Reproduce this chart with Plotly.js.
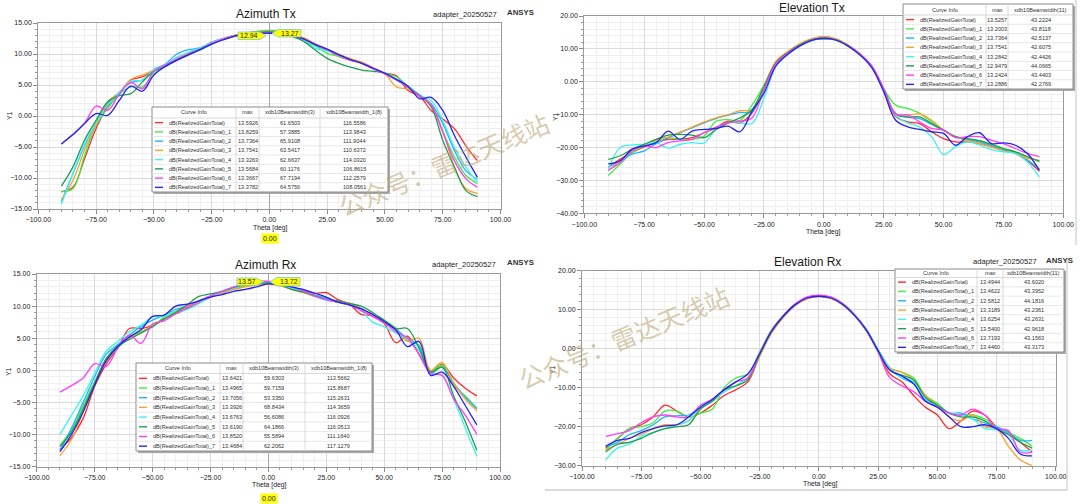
<!DOCTYPE html>
<html><head><meta charset="utf-8">
<script src="https://cdn.plot.ly/plotly-3.0.1.min.js"></script>
<style>html,body{margin:0;padding:0;background:#fff;}#chart{width:1080px;height:504px;}</style>
</head><body><div id="chart"></div>
<script>
// ---------------- DATA ----------------
const theta = [-90,-85,-80,-75,-70,-65,-60,-55,-50,-45,-40,-35,-30,-25,-20,-15,-10,-5,0,5,10,15,20,25,30,35,40,45,50,55,60,65,70,75,80,85,90];
const curveNames = ['dB(RealizedGainTotal)','dB(RealizedGainTotal)_1','dB(RealizedGainTotal)_2','dB(RealizedGainTotal)_3','dB(RealizedGainTotal)_4','dB(RealizedGainTotal)_5','dB(RealizedGainTotal)_6','dB(RealizedGainTotal)_7'];
const curveColors = ['#ff2a2a','#3ef03e','#1fb4ff','#ff9f2e','#3cf2f2','#1f9e50','#ff3cff','#2424f0'];

// Azimuth Tx
const azTx0 = [-12.2,-11.5,-6.9,-2.0,1.5,3.6,5.8,6.3,7.3,8.1,9.1,10.0,10.7,11.7,12.5,13.0,13.3,13.5,13.55,13.5,13.0,12.5,11.4,10.6,9.6,9.0,8.5,7.6,6.9,6.5,4.1,3.2,0.9,-0.5,-2.0,-4.8,-7.2];
const azTx1 = [-12.2,-11.7,-6.4,-1.5,1.2,3.5,4.7,4.7,6.8,8.0,9.0,9.9,10.6,11.6,12.4,13.0,13.4,13.7,13.8,13.7,13.1,12.0,11.3,10.1,9.6,9.0,8.6,7.6,6.9,6.3,4.8,3.4,1.8,-2.4,-6.6,-9.6,-10.9];
const azTx2 = [-13.8,-9.3,-4.8,-1.2,2.0,3.8,5.4,5.8,7.5,8.4,10.0,10.7,11.0,11.9,12.5,13.0,13.4,13.6,13.7,13.6,13.1,12.5,11.4,10.7,9.9,9.1,8.5,7.7,6.8,5.8,4.7,3.3,2.0,-1.2,-5.5,-8.8,-10.2];
const azTx3 = [-13.5,-10.4,-5.5,-1.4,2.3,3.8,5.9,6.6,7.4,8.2,9.3,10.2,10.9,11.8,12.5,13.0,13.4,13.6,13.7,13.6,13.1,12.6,11.6,10.8,10.0,9.3,8.7,7.8,6.8,4.7,4.3,3.4,1.8,-2.4,-8.2,-11.7,-12.5];
const azTx4 = [-14.2,-9.3,-4.5,-1.1,1.7,3.8,5.6,5.8,7.4,8.2,9.5,10.3,11.0,11.8,12.4,12.9,13.2,13.3,13.3,13.3,12.9,12.3,10.9,10.5,9.8,9.0,8.5,7.6,6.9,5.9,4.8,3.4,2.5,-0.7,-5.0,-8.2,-10.7];
const azTx5 = [-11.3,-8.2,-3.9,-0.7,2.3,3.3,3.6,5.5,7.2,8.0,9.0,9.8,10.8,11.6,12.3,12.9,13.3,13.5,13.55,13.4,12.8,12.0,10.6,9.3,8.5,7.9,7.4,7.2,6.9,5.8,4.6,3.3,1.5,-3.9,-8.2,-12.0,-13.0];
const azTx6 = [-4.5,-3.0,-1.2,1.6,0.9,3.5,5.4,4.4,7.2,8.2,9.2,10.0,10.8,11.7,12.4,12.9,13.2,13.35,13.35,13.3,12.9,12.4,11.5,10.7,9.8,9.0,8.5,7.6,6.8,5.8,4.6,3.2,1.8,-2.6,-7.2,-10.1,-11.5];
const azTx7 = [-4.5,-3.0,-1.2,0.4,0.1,2.5,4.8,4.0,6.6,8.0,9.0,9.9,10.7,11.6,12.3,12.9,13.2,13.35,13.35,13.3,12.9,12.4,11.5,10.8,9.9,9.1,8.5,7.7,6.9,5.9,4.8,2.8,3.0,0.9,-3.1,-6.6,-9.9];
const azTxMax = ['13.5926','13.8259','13.7364','13.7541','13.3263','13.5684','13.3667','13.3782'];
const azTxBw3 = ['61.6503','57.3885','65.9108','63.5417','62.6637','60.1176','67.7194','64.5756'];
const azTxBw8 = ['116.5586','113.9843','111.9044','110.6372','114.0320','106.8615','112.2579','108.0561'];
const azTxMarkers = ['12.94','13.27'];

// Elevation Tx
const elTx0 = [-26,-23.5,-21.5,-19.8,-18.5,-17.5,-17.5,-17,-15.5,-14,-12,-12.5,-9.5,-2.5,5.5,8.7,11.1,12.9,13.5,12.9,11.0,8.4,4.6,-2.6,-10.5,-12.2,-12.7,-15.2,-17.3,-18.3,-18.3,-18.8,-19.8,-20.8,-21.8,-23.9,-27.2];
const elTx1 = [-28.5,-25,-21.5,-19.5,-17.5,-17,-17.5,-17.5,-16.5,-12,-11.5,-11.8,-7.1,-1.0,6.0,8.9,11.0,12.6,13.2,12.6,10.9,8.3,4.8,-2.0,-7.1,-8.1,-9.6,-12.2,-14.7,-16.7,-17.8,-17.8,-19.3,-20.3,-21.3,-22.8,-24.4];
const elTx2 = [-26,-24,-22,-21,-18.8,-17,-15.5,-14,-12.5,-11.2,-10.2,-9.3,-9.2,-2.0,5.8,9.0,11.4,13.0,13.7,13.0,11.2,8.6,4.8,-2.2,-9.8,-10.8,-11.2,-13.0,-14.8,-16.8,-17.5,-18.3,-19.5,-20.8,-21.8,-23.8,-26.5];
const elTx3 = [-27,-24,-21,-19.5,-18,-16.8,-15.3,-13.8,-12.3,-11.0,-10.0,-8.8,-8.5,-1.5,6.2,9.2,11.6,13.1,13.75,13.1,11.3,8.6,4.8,-2.0,-9.6,-10.1,-9.8,-11.7,-14.7,-16.7,-17.8,-18.8,-19.8,-21.0,-21.8,-23.3,-23.9];
const elTx4 = [-26.5,-20,-19.2,-19,-18.5,-20.2,-19,-18.5,-18.6,-14.5,-12.5,-12.5,-12.7,-5.0,4.6,8.3,10.9,12.6,13.2,12.7,11.0,8.4,4.5,-2.8,-10.2,-12.5,-13.7,-16.7,-22.1,-19.8,-18.3,-19.3,-20.6,-21.3,-21.8,-24.4,-28.9];
const elTx5 = [-23.6,-22.5,-20.5,-19,-17.5,-16.2,-16,-16.2,-17,-14.5,-12.5,-11,-8.5,-1.5,5.8,8.9,11.2,12.8,13.0,12.8,11.0,8.3,4.6,-2.3,-9.8,-10.7,-10.7,-12.7,-14.7,-16.7,-17.3,-18,-19,-20.3,-21.3,-22.8,-24.1];
const elTx6 = [-27,-24.5,-21,-19.5,-20,-18.5,-18,-17.5,-15.5,-13.8,-12.5,-12,-11,-2.5,5.5,8.7,11.0,12.7,13.25,12.7,11.0,8.5,4.8,-2.0,-9.8,-10.1,-12.2,-14.2,-14.7,-17,-16.7,-16.7,-17.8,-18.8,-20.3,-21.8,-22.8];
const elTx7 = [-25,-24,-20.5,-19.5,-18.5,-15,-17.5,-15,-14.5,-14.2,-13.5,-15.2,-9.0,-3.5,4.8,8.4,10.9,12.6,13.3,12.7,10.9,8.2,4.3,-3.0,-11.7,-13.7,-14.5,-15.2,-15.7,-19.3,-16.7,-15.5,-18.8,-18.6,-19.3,-21.8,-26.9];
const elTxMax = ['13.5257','13.2003','13.7364','13.7541','13.2842','12.9479','13.2424','13.2886'];
const elTxBw = ['43.2224','43.8118','42.5137','42.6075','42.4426','44.0665','43.4403','42.2769'];

// Azimuth Rx
const azRx0 = [-12.3,-10.5,-7.5,-2.5,1.0,3.5,6.5,6.5,7.0,8.0,8.8,9.6,10.5,11.4,12.0,12.7,13.2,13.5,13.6,13.3,12.8,12.4,12.0,12.1,11.0,10.3,8.7,8.5,7.3,4.3,5.3,2.5,-0.2,0.9,-1.2,-2.8,-4.0];
const azRx1 = [-11.7,-9.3,-5.5,-1.8,1.5,3.5,5.0,6.0,6.8,8.3,9.2,10.0,10.8,11.5,12.1,12.7,13.2,13.4,13.5,13.2,12.7,12.3,11.7,11.3,10.7,10.3,9.6,8.6,7.8,6.6,4.6,3.9,-0.1,0.8,-2.3,-4.0,-5.9];
const azRx2 = [-12.5,-9.0,-5.0,-1.0,2.5,4.0,5.5,6.8,7.8,8.6,9.5,10.0,10.8,11.6,12.3,12.9,13.4,13.6,13.7,13.4,12.9,12.3,11.7,11.2,10.6,10.2,9.4,8.4,7.4,6.4,5.0,3.8,-0.5,0.5,-2.0,-4.2,-6.0];
const azRx3 = [-13.3,-10.8,-6.5,-2.0,1.8,3.7,5.0,5.8,7.0,8.0,9.0,10.0,10.8,11.4,12.0,12.6,13.0,13.3,13.4,13.2,12.6,12.1,11.5,11.0,10.6,10.5,9.6,8.5,7.6,6.3,4.5,5.0,0.0,1.2,-2.0,-4.5,-6.3];
const azRx4 = [-10.0,-7.0,-4.0,-0.5,3.0,4.5,6.0,7.0,8.3,8.4,9.0,9.5,10.4,11.5,12.2,12.8,13.3,13.6,13.65,13.3,12.8,12.2,11.5,10.9,10.6,10.2,9.3,7.5,6.8,5.8,4.9,3.1,-0.5,-0.8,-4.5,-9.0,-13.4];
const azRx5 = [-11.9,-9.6,-6.0,-2.0,1.8,3.8,4.8,5.8,6.8,8.0,9.0,10.2,11.5,11.9,12.3,12.9,13.3,13.5,13.6,13.3,12.6,12.2,11.6,11.0,10.8,10.4,10.0,9.0,7.8,6.5,6.5,3.5,-0.3,0.5,-4.0,-8.0,-12.5];
const azRx6 = [-3.4,-2.4,-1.2,1.0,0.6,3.5,5.5,4.2,7.2,7.7,8.8,9.8,10.8,11.6,12.3,13.0,13.5,13.8,13.85,13.5,13.0,12.4,11.6,11.0,10.6,10.2,9.3,8.4,7.4,6.0,5.0,2.5,-0.5,-0.8,-4.5,-7.0,-10.0];
const azRx7 = [-12.7,-10.0,-6.5,-2.3,1.5,3.7,5.2,6.3,8.4,8.6,10.0,10.3,10.8,11.4,11.8,12.3,12.6,13.0,13.45,13.3,13.0,12.6,12.0,11.4,10.6,10.2,9.6,8.7,7.6,6.3,3.7,4.5,-0.8,-0.3,-2.5,-5.5,-8.5];
const azRxMax = ['13.6421','13.4965','13.7056','13.3926','13.6763','13.6190','13.8520','13.4684'];
const azRxBw3 = ['59.6303','59.7159','53.3350','68.8434','56.6086','64.1866','55.5894','62.2062'];
const azRxBw8 = ['113.5662','115.8687','115.2631','114.3659','116.0926','116.0513','111.1640','117.1279'];
const azRxMarkers = ['13.57','13.72'];

// Elevation Rx
const elRx0 = [-25.5,-23,-20.5,-19.5,-17.5,-14.5,-16,-17.5,-16.5,-14.5,-12,-10.5,-8.5,-1.8,4.3,8.2,11.2,13.0,13.5,13.0,11.3,8.5,4.6,-0.8,-6.5,-8.5,-12,-15,-17,-20.5,-18.5,-16,-17,-20,-21.5,-24,-26.5];
const elRx1 = [-26,-23,-20.5,-20,-19,-16,-16,-17.5,-16.5,-15.5,-10,-7.5,-6.5,-0.8,4.8,8.5,11.3,13.0,13.5,13.0,11.4,8.6,4.8,-0.3,-5.0,-6.0,-7.5,-12,-14,-16.5,-17,-17,-18,-20,-21.5,-23,-25];
const elRx2 = [-25,-24,-22,-21,-19.5,-17.5,-17.2,-17,-15,-13,-11,-9.5,-7.5,-1.5,4.4,8.2,11.2,13.1,13.6,13.2,11.6,8.8,5.0,-0.2,-5.0,-7.5,-9,-13,-14.5,-16.5,-16.5,-18,-19,-20,-21.5,-23.5,-23.5];
const elRx3 = [-26,-24.5,-23,-22,-20.5,-19.5,-19.5,-18.5,-15.5,-13,-11,-9.5,-8,-2.0,4.0,8.0,11.0,12.8,13.3,12.9,11.3,8.5,4.7,-0.5,-5.0,-6.0,-8.0,-12,-14.5,-17.5,-18.5,-17,-20,-20.5,-25,-28.5,-30];
const elRx4 = [-28.5,-25.5,-24.5,-22.5,-21.5,-20.5,-19.5,-18.5,-15,-13.5,-11,-9.5,-7.5,-1.5,4.4,8.3,11.3,13.1,13.6,13.2,11.6,8.8,5.0,-0.3,-5.2,-7.5,-8.5,-13,-15,-16.5,-17,-18,-20.5,-20.8,-22,-26,-26];
const elRx5 = [-26.5,-24.5,-24,-23,-21.5,-20.5,-20,-19.5,-15.5,-13.5,-10.5,-9.5,-8,-1.5,4.4,8.3,11.3,13.0,13.5,13.0,11.4,8.6,4.7,-0.5,-5.5,-6.8,-8,-12.5,-14.5,-16.5,-17.5,-17.5,-18.5,-20.5,-22,-24,-25.5];
const elRx6 = [-22.5,-21.8,-21,-19,-17.5,-17,-17.5,-17.5,-14.5,-13,-10.5,-8.5,-7.5,-1.2,4.6,8.5,11.5,13.3,13.7,13.3,11.6,8.7,4.8,-0.8,-7.5,-9.5,-11,-13.5,-15,-16.5,-17,-15.5,-17,-20.5,-21,-26.5,-26.5];
const elRx7 = [-25,-23.5,-23,-21.5,-20.5,-19.8,-19.5,-17.5,-15,-13,-10.5,-8.5,-6.5,-1.3,4.5,8.4,11.3,13.0,13.45,13.0,11.4,8.6,4.8,-0.6,-5.5,-7.0,-9,-13.5,-15,-17.5,-20,-20,-19.5,-20.5,-23,-27,-27.5];
const elRxMax = ['13.4944','13.4622','13.5812','13.3189','13.6254','13.5400','13.7193','13.4460'];
const elRxBw = ['43.6020','43.3952','44.1816','43.2361','43.2631','42.9618','43.1563','43.3173'];

const xTitle = 'Theta [deg]';
const yTitle = 'Y1';
const projText = 'adapter_20250527';
const brandText = 'ANSYS';
const watermarkText = '公众号：雷达天线站';
const cursorText = '0.00';

// ---------------- BUILD ----------------
const W = 1080, H = 504;
const X = px => px / W;
const Y = py => 1 - py / H;
const FONT = 'Liberation Sans, Arial, Helvetica, sans-serif';

const panels = [
  {s:'',  series:[azTx0,azTx1,azTx2,azTx3,azTx4,azTx5,azTx6,azTx7], xd:[38.3,500.5], yd:[23,209], yr:[-15,15], ydt:5, ymin:1, zero:true},
  {s:'2', series:[elTx0,elTx1,elTx2,elTx3,elTx4,elTx5,elTx6,elTx7], xd:[584.3,1063.3], yd:[16,213.3], yr:[-40,20], ydt:10, ymin:2, zero:false},
  {s:'3', series:[azRx0,azRx1,azRx2,azRx3,azRx4,azRx5,azRx6,azRx7], xd:[36.8,500], yd:[274,466.5], yr:[-15,15], ydt:5, ymin:1, zero:true},
  {s:'4', series:[elRx0,elRx1,elRx2,elRx3,elRx4,elRx5,elRx6,elRx7], xd:[582,1055.8], yd:[270.7,465.7], yr:[-30,20], ydt:10, ymin:2, zero:false}
];

const traces = [];
const layout = {
  width: W, height: H, margin:{l:0,r:0,t:0,b:0},
  paper_bgcolor:'#ffffff', plot_bgcolor:'#ffffff',
  font:{family:FONT, color:'#222'},
  showlegend:false, shapes:[], annotations:[]
};

panels.forEach(p => {
  p.series.forEach((ys, i) => {
    traces.push({x: theta, y: ys, xaxis:'x'+p.s, yaxis:'y'+p.s, type:'scatter', mode:'lines',
      line:{color: curveColors[i], width:1.3, shape:'spline', smoothing:1}, hoverinfo:'skip'});
  });
  const common = {showline:true, linecolor:'#9a9a9a', linewidth:1, mirror:true,
    ticks:'outside', ticklen:4, tickcolor:'#8a8a8a', tickformat:'.2f',
    tickfont:{size:7, color:'#222', family:FONT}, showgrid:true, gridcolor:'#dadada', gridwidth:1, fixedrange:true};
  layout['xaxis'+p.s] = Object.assign({}, common, {
    domain:[X(p.xd[0]), X(p.xd[1])], anchor:'y'+p.s, range:[-100,100], dtick:25, tick0:0,
    zeroline:p.zero, zerolinecolor:'#a8a8a8', zerolinewidth:1,
    minor:{dtick:5, showgrid:true, gridcolor:'#efefef', ticks:'outside', ticklen:2, tickcolor:'#9a9a9a'}
  });
  layout['yaxis'+p.s] = Object.assign({}, common, {
    domain:[Y(p.yd[1]), Y(p.yd[0])], anchor:'x'+p.s, range:p.yr, dtick:p.ydt, tick0:0, zeroline:false,
    minor:{dtick:p.ymin, showgrid:true, gridcolor:'#efefef', ticks:'outside', ticklen:2, tickcolor:'#9a9a9a'}
  });
});

function ann(px, py, text, o) {
  layout.annotations.push(Object.assign({xref:'paper', yref:'paper', x:X(px), y:Y(py), text:text,
    showarrow:false, xanchor:'center', yanchor:'middle', font:{size:7, color:'#222', family:FONT}}, o||{}));
}
function rect(x0,y0,x1,y1,fill,lc,lw) {
  layout.shapes.push({type:'rect', xref:'paper', yref:'paper', x0:X(x0), x1:X(x1), y0:Y(y1), y1:Y(y0),
    fillcolor:fill, line:{color:lc||'rgba(0,0,0,0)', width:lw||0}, layer:'above'});
}
function line(x0,y0,x1,y1,color,w) {
  layout.shapes.push({type:'line', xref:'paper', yref:'paper', x0:X(x0), x1:X(x1), y0:Y(y0), y1:Y(y1),
    line:{color:color, width:w}, layer:'above'});
}

// titles and texts
const small = {size:7.6, color:'#222', family:FONT};
const brand = {size:7.8, color:'#333', family:FONT};
ann(266,14,'Azimuth Tx',{font:{size:12,color:'#1a1a1a',family:FONT}});
ann(499,14,projText,{xanchor:'right', font:small});
ann(505,12.5,'<b>'+brandText+'</b>',{xanchor:'left', font:brand});
ann(812,8,'Elevation Tx',{font:{size:12,color:'#1a1a1a',family:FONT}});
ann(265,265,'Azimuth Rx',{font:{size:12,color:'#1a1a1a',family:FONT}});
ann(498,264,projText,{xanchor:'right', font:small});
ann(505,262.5,'<b>'+brandText+'</b>',{xanchor:'left', font:brand});
ann(807,262,'Elevation Rx',{font:{size:12,color:'#1a1a1a',family:FONT}});
ann(1039,261,projText,{xanchor:'right', font:small});
ann(1044,260,'<b>'+brandText+'</b>',{xanchor:'left', font:brand});

// axis titles
[[270,228],[823,232],[268.5,485],[819.6,484]].forEach(q => ann(q[0],q[1],xTitle,{font:{size:6.8,color:'#222',family:FONT}}));
[[10,116],[555,117],[8,372],[552,370]].forEach(q => ann(q[0],q[1],yTitle,{textangle:-90,font:{size:6.8,color:'#222',family:FONT}}));

// cursor value boxes
ann(270,238.5,cursorText,{bgcolor:'#ffff00',borderpad:1,font:{size:7,color:'#222',family:FONT}});
ann(268.5,498,cursorText,{bgcolor:'#ffff00',borderpad:1,font:{size:7,color:'#222',family:FONT}});

// marker flags
function flag(text, bx0, bx1, by0, by1, tip, dir) {
  const m = (by0+by1)/2;
  let pts;
  if (dir === 'right') pts = [[bx0,by0],[bx1,by0],[tip,m],[bx1,by1],[bx0,by1]];
  else pts = [[bx1,by0],[bx0,by0],[tip,m],[bx0,by1],[bx1,by1]];
  const path = 'M' + pts.map(p => X(p[0]).toFixed(5)+','+Y(p[1]).toFixed(5)).join(' L') + ' Z';
  layout.shapes.push({type:'path', xref:'paper', yref:'paper', path:path, fillcolor:'#ffff00',
    line:{color:'#7cc8c8', width:0.8}, layer:'above'});
  ann((bx0+bx1)/2, m, text, {font:{size:7, color:'#222', family:FONT}});
}
flag(azTxMarkers[0], 238, 260, 32, 39.5, 266, 'right');
flag(azTxMarkers[1], 278, 301, 29.5, 37, 272, 'left');
flag(azRxMarkers[0], 237, 256, 278, 285.5, 264, 'right');
flag(azRxMarkers[1], 277, 300, 277.5, 286, 270, 'left');

// legend tables
function table(box, cols, headers, valueCols) {
  const {l,t,r,b,hb} = box;
  rect(l+2, t+2, r+2, b+2, '#a9a9a9');
  rect(l, t, r, b, '#ffffff', '#8c8c8c', 1);
  const rh = (b - hb) / 8;
  line(l, hb, r, hb, '#cfcfcf', 0.8);
  for (let k = 1; k < 8; k++) line(l, hb + k*rh, r, hb + k*rh, '#e2e2e2', 0.8);
  for (let c = 1; c < cols.length-1; c++) line(cols[c], t, cols[c], b, '#d0d0d0', 0.8);
  const tf = {size:5.6, color:'#333', family:FONT};
  headers.forEach((h, c) => ann((cols[c]+cols[c+1])/2, (t+hb)/2, h, {font:tf}));
  for (let i = 0; i < 8; i++) {
    const cy = hb + (i+0.5)*rh;
    line(l+3, cy, l+11, cy, curveColors[i], 1.4);
    ann(l+15, cy, curveNames[i], {xanchor:'left', font:tf});
    valueCols.forEach((arr, c) => ann((cols[c+1]+cols[c+2])/2, cy, arr[i], {font:tf}));
  }
}
const hdr4 = ['Curve Info','max','xdb10Beamwidth(3)','xdb10Beamwidth_1(8)'];
const hdr3 = ['Curve Info','max','xdb10Beamwidth(11)'];
table({l:152,t:107,r:388,b:192,hb:118}, [152,236,259,320,388], hdr4, [azTxMax, azTxBw3, azTxBw8]);
table({l:903,t:4,r:1073,b:89,hb:15}, [903,986,1008,1073], hdr3, [elTxMax, elTxBw]);
table({l:136,t:363,r:372,b:451,hb:373.5}, [136,220,243,305,372], hdr4, [azRxMax, azRxBw3, azRxBw8]);
table({l:895,t:269,r:1064,b:352,hb:277.5}, [895,977,1003,1064], hdr3, [elRxMax, elRxBw]);

// panel frames on the right
line(1076, 0, 1076, 245, '#c4c4c4', 1);
line(1067, 258, 1067, 490, '#c4c4c4', 1);
line(545, 490, 1067, 490, '#b8b8b8', 1);

// watermarks
const wmFont = {size:25, color:'rgba(190,170,122,0.62)', family:'Noto Sans CJK SC, sans-serif'};
ann(443,164,watermarkText,{textangle:-22.5, font:wmFont});
ann(623,337,watermarkText,{textangle:-22.5, font:wmFont});

Plotly.newPlot('chart', traces, layout, {staticPlot:true, displayModeBar:false});
</script>
</body></html>
